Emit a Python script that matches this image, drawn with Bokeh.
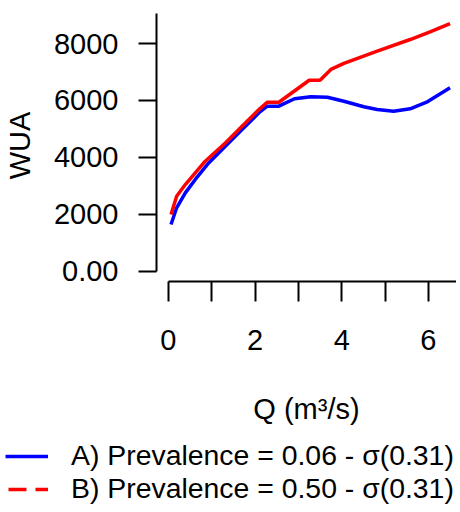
from bokeh.plotting import figure
from bokeh.models import Range1d, FixedTicker, Legend, LegendItem
from bokeh.layouts import column
from bokeh.embed import file_html
from bokeh.resources import INLINE

# Series A (blue): Prevalence = 0.06
q_a = [0.06, 0.19, 0.39, 0.62, 0.93, 1.32, 1.70, 2.09, 2.28, 2.55, 2.91, 3.29, 3.67,
       4.05, 4.51, 4.82, 5.20, 5.58, 5.96, 6.50]
wua_a = [1650, 2235, 2760, 3230, 3810, 4400, 4980, 5570, 5800, 5800, 6060, 6130, 6115,
         5975, 5780, 5685, 5625, 5710, 5940, 6445]

# Series B (red): Prevalence = 0.50
q_b = [0.06, 0.19, 0.39, 0.62, 0.85, 1.32, 1.70, 2.09, 2.28, 2.55, 3.25, 3.50, 3.75,
       4.05, 4.82, 5.58, 6.04, 6.50]
wua_b = [2000, 2640, 3050, 3460, 3870, 4515, 5100, 5680, 5940, 5940, 6710, 6710, 7090,
         7300, 7730, 8140, 8410, 8700]

label_a = "A) Prevalence = 0.06 - σ(0.31)"
label_b = "B) Prevalence = 0.50 - σ(0.31)"

x_major = [0, 2, 4, 6]
x_minor = [1, 3, 5]
y_ticks = [0, 2000, 4000, 6000, 8000]
y_tick_labels = {0: "0.00", 2000: "2000", 4000: "4000", 6000: "6000", 8000: "8000"}

FONT = "Liberation Sans"
FS = "29px"
BLUE = "#0000ff"
RED = "#ff0000"

p = figure(width=456, height=438, output_backend="svg", toolbar_location=None,
           x_range=Range1d(-0.275, 6.65), y_range=Range1d(-351, 9193),
           min_border_left=154, min_border_right=0, min_border_top=9,
           min_border_bottom=157)
p.frame_align = False
p.outline_line_color = None
p.xgrid.visible = False
p.ygrid.visible = False

p.line(q_a, wua_a, line_color=BLUE, line_width=3.5)
p.line(q_b, wua_b, line_color=RED, line_width=3.5)

for ax in (p.xaxis[0], p.yaxis[0]):
    ax.axis_line_color = "black"
    ax.axis_line_width = 2
    ax.major_tick_line_color = "black"
    ax.major_tick_line_width = 2
    ax.minor_tick_line_color = "black"
    ax.minor_tick_line_width = 2
    ax.major_tick_in = 0
    ax.minor_tick_in = 0
    ax.major_label_text_font = FONT
    ax.major_label_text_font_size = FS
    ax.major_label_text_color = "black"
    ax.axis_label_text_font = FONT
    ax.axis_label_text_font_size = FS
    ax.axis_label_text_font_style = "normal"
    ax.axis_label_text_color = "black"

xa = p.xaxis[0]
xa.ticker = FixedTicker(ticks=x_major, minor_ticks=x_minor)
xa.bounds = (0, 7)
xa.major_tick_out = 20
xa.minor_tick_out = 20
xa.major_label_standoff = 28
xa.axis_label = "Q (m³/s)"
xa.axis_label_standoff = 40

ya = p.yaxis[0]
ya.ticker = FixedTicker(ticks=y_ticks, minor_ticks=[])
ya.major_label_overrides = y_tick_labels
ya.bounds = (0, 9050)
ya.major_tick_out = 18
ya.minor_tick_out = 0
ya.major_label_standoff = 20
ya.axis_label = "WUA"
ya.axis_label_standoff = 15

# legend panel below the plot (its swatch renderers fall outside its own ranges)
lg = figure(width=456, height=72, output_backend="svg", toolbar_location=None,
            x_range=Range1d(100, 101), y_range=Range1d(100000, 100001),
            min_border=0, outline_line_color=None)
lg.frame_align = False
lg.axis.visible = False
lg.grid.visible = False
la = lg.line(q_a, wua_a, line_color=BLUE, line_width=3.5)
lb = lg.line(q_b, wua_b, line_color=RED, line_width=3.5, line_dash="18 9",
             line_dash_offset=24)
legend = Legend(items=[LegendItem(label=label_a, renderers=[la]),
                       LegendItem(label=label_b, renderers=[lb])],
                location=(5, 5), orientation="vertical",
                padding=0, margin=0, spacing=-3, glyph_width=43, glyph_height=30,
                label_standoff=23, label_text_font=FONT, label_text_font_size="28.4px",
                label_text_color="black", label_height=30,
                border_line_color=None, background_fill_alpha=0)
lg.add_layout(legend, "center")

layout = column(p, lg, spacing=0)
open("out.html", "w").write(file_html(layout, INLINE))
